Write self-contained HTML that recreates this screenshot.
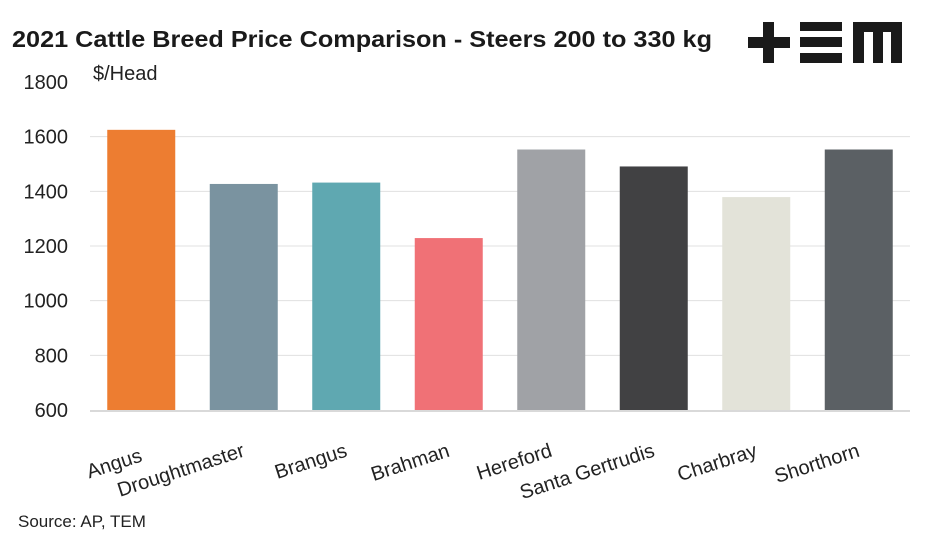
<!DOCTYPE html>
<html><head><meta charset="utf-8"><style>
body{margin:0;background:#fff;width:947px;height:539px;overflow:hidden;font-family:"Liberation Sans",sans-serif}
</style></head><body>
<svg width="947" height="539" font-family="Liberation Sans, sans-serif">
<text x="12" y="47" font-size="23" font-weight="bold" fill="#1a1a1a" textLength="700" lengthAdjust="spacingAndGlyphs">2021 Cattle Breed Price Comparison - Steers 200 to 330 kg</text>
<g fill="#1a1a1a">
<rect x="763" y="22" width="11" height="41"/><rect x="748" y="37" width="42" height="11"/>
<rect x="800" y="22" width="42" height="9"/><rect x="800" y="37" width="42" height="10"/><rect x="800" y="53" width="42" height="10"/>
<rect x="853" y="22" width="49" height="10"/><rect x="853" y="22" width="11" height="41"/><rect x="873" y="22" width="10" height="41"/><rect x="891" y="22" width="11" height="41"/>
</g>
<text x="93" y="80" font-size="20" fill="#222">$/Head</text>
<g id="grid"></g><g id="bars"></g><g id="labels"></g>
<text x="18" y="527" font-size="17" fill="#222">Source: AP, TEM</text>
</svg>
<script>
const categories=["Angus","Droughtmaster","Brangus","Brahman","Hereford","Santa Gertrudis","Charbray","Shorthorn"];
const values=[1625,1427,1432,1229,1553,1491,1379,1553];
const colors=["#ed7d31","#7a93a0","#5fa8b1","#f07176","#a0a2a6","#414143","#e3e3d9","#5b6064"];
const ticks=[600,800,1000,1200,1400,1600,1800];
const NS="http://www.w3.org/2000/svg";
const x0=90,x1=910,yBase=410,yTop=82,vMin=600,vMax=1800;
const y=v=>yBase-(v-vMin)/(vMax-vMin)*(yBase-yTop);
const bw=(x1-x0)/categories.length;
const xc=i=>x0+bw*(i+0.5);
function mk(t,a){const e=document.createElementNS(NS,t);for(const k in a)e.setAttribute(k,a[k]);return e;}
const grid=document.getElementById('grid');
ticks.forEach(t=>{
 if(t>vMin&&t<vMax){const l=mk('line',{x1:x0,x2:x1,y1:y(t),y2:y(t),stroke:'#e0e0e0','stroke-width':1});
 
 grid.appendChild(l);}
 const tx=mk('text',{x:68,y:y(t)+7,'font-size':20,'text-anchor':'end',fill:'#222'});tx.textContent=t;
 
 grid.appendChild(tx);
});
const ax=mk('line',{x1:x0,x2:x1,y1:yBase+1,y2:yBase+1,stroke:'#d9d9d9','stroke-width':2});

grid.appendChild(ax);
const bars=document.getElementById('bars'),labels=document.getElementById('labels');
categories.forEach((c,i)=>{
 const r=mk('rect',{x:xc(i)-34,width:68,y:y(values[i]),height:yBase-y(values[i]),fill:colors[i]});
 
 bars.appendChild(r);
 const tx=mk('text',{'font-size':20,'text-anchor':'end',fill:'#222',transform:`translate(${xc(i)+2},${i===0?461:456}) rotate(-18)`});
 tx.textContent=c;
 
 labels.appendChild(tx);
});
</script>
</body></html>
